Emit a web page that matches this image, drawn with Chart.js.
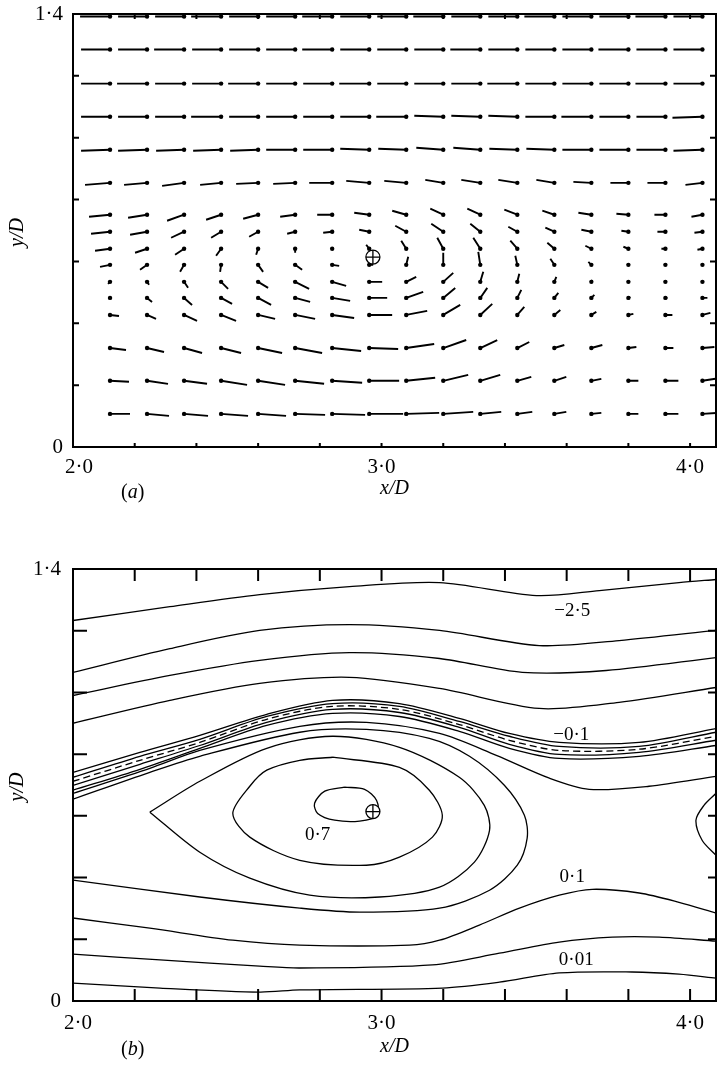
<!DOCTYPE html>
<html><head><meta charset="utf-8">
<script src="https://cdn.jsdelivr.net/npm/chart.js@4.4.0/dist/chart.umd.min.js"></script>
<style>
html,body{margin:0;padding:0;background:#fff;}
#wrap{position:relative;width:717px;height:1066px;overflow:hidden;}
canvas{position:absolute;left:0;}
#ca{top:0;}
#cb{top:520px;}
.pl{position:absolute;font-family:"Liberation Serif",serif;font-size:20px;line-height:22px;color:#000;}
</style></head><body>
<div id="wrap">
<canvas id="ca" width="717" height="505" style="width:717px;height:505px"></canvas>
<canvas id="cb" width="717" height="546" style="width:717px;height:546px"></canvas>
<div class="pl" style="left:121px;top:480px;">(<i>a</i>)</div>
<div class="pl" style="left:121px;top:1037px;">(<i>b</i>)</div>
</div>
<script>
// ---------- axes ----------
const X_MIN = 2.0, X_MAX = 4.084, Y_MIN = 0, Y_MAX = 1.4;
const X_LABELS = [[2.0, '2·0'], [3.0, '3·0'], [4.0, '4·0']];
const Y_LABELS = [[0, '0'], [1.4, '1·4']];
const X_MINOR = [2.0, 2.2, 2.4, 2.6, 2.8, 3.0, 3.2, 3.4, 3.6, 3.8, 4.0];
const Y_MINOR = [0, 0.2, 0.4, 0.6, 0.8, 1.0, 1.2, 1.4];
const X_TITLE = 'x/D', Y_TITLE = 'y/D';

// ---------- (a) velocity vectors ----------
const ROW_Y = [1.392, 1.285, 1.175, 1.068, 0.961, 0.854, 0.751, 0.696, 0.641, 0.589, 0.534, 0.482, 0.427, 0.320, 0.214, 0.107];
const COL_X = [2.12, 2.24, 2.36, 2.48, 2.60, 2.72, 2.84, 2.96, 3.08, 3.20, 3.32, 3.44, 3.56, 3.68, 3.80, 3.92, 4.04];
const U = [
 [30,29,29,30,29,29,30,29,29,30,29,29,30,29,29,30,29],
 [29,29,30,29,29,29,30,29,29,29,30,29,29,29,30,29,29],
 [29,30,29,29,30,29,29,30,29,29,29,30,29,29,29,30,29],
 [29,29,29,30,29,29,29,29,30,29,29,29,29,30,29,29,30],
 [29,29,28,28,28,29,29,29,28,27,27,28,28,29,29,29,29],
 [25,23,22,21,22,22,23,23,22,18,19,19,18,18,18,18,17],
 [21,19,17,15,15,15,15,15,14,13,13,13,12,13,12,11,11],
 [19,17,13,10,9,8,9,10,11,12,10,9,9,10,7,8,8],
 [15,12,9,5,2,0,0,3,5,6,7,7,7,6,5,4,5],
 [10,7,4,1,-5,-7,-7,-4,-2,0,2,2,4,3,1,1,1],
 [2,-2,-4,-7,-10,-14,-14,-13,-10,-10,-3,-2,-2,-1,-1,-1,-1],
 [2,-5,-8,-11,-13,-15,-18,-18,-17,-12,-7,-4,-4,-3,-2,-2,-5],
 [-9,-9,-13,-15,-17,-20,-22,-23,-21,-17,-12,-7,-6,-5,-5,-7,-8],
 [-16,-17,-18,-20,-24,-27,-29,-29,-28,-23,-17,-12,-10,-11,-8,-8,-12],
 [-19,-21,-23,-26,-27,-29,-30,-30,-29,-25,-20,-14,-12,-10,-10,-13,-13],
 [-20,-22,-24,-27,-28,-30,-33,-34,-33,-30,-21,-15,-12,-10,-10,-13,-14]
];
const V = [
 [0,0,0,0,0,0,0,0,0,0,0,0,0,0,0,0,0],
 [0,0,0,0,0,0,0,0,0,0,0,0,0,0,0,0,0],
 [0,0,0,0,0,0,0,0,0,0,0,0,0,0,0,0,0],
 [0,0,0,0,0,0,0,0,0,-1,-1,-1,0,0,0,0,1],
 [1,1,1,1,1,0,0,-1,-1,-2,-2,-1,-1,0,0,0,1],
 [2,2,3,2,1,1,0,-2,-2,-3,-3,-3,-3,-1,0,0,2],
 [2,3,6,5,4,2,0,-2,-4,-6,-6,-5,-4,-2,-1,0,2],
 [2,3,6,6,5,2,1,-2,-6,-8,-8,-5,-4,-2,-1,0,1],
 [2,4,6,7,6,4,1,-4,-8,-11,-11,-8,-6,-3,-2,0,1],
 [2,5,7,7,7,5,1,0,-8,-12,-13,-9,-6,-3,-1,0,0],
 [2,3,6,7,6,7,4,0,-5,-9,-10,-8,-5,-2,0,0,0],
 [0,4,7,6,7,4,3,0,-6,-10,-10,-8,-5,-3,-1,0,0],
 [1,4,6,6,4,4,3,0,-4,-10,-11,-8,-5,-3,-1,0,-2],
 [2,4,5,5,5,5,3,1,-4,-8,-8,-6,-3,-3,-1,0,-1],
 [1,3,3,4,4,3,2,0,-3,-6,-6,-4,-4,-2,0,0,-2],
 [0,2,2,2,2,1,1,0,-1,-2,-2,-2,-2,-1,0,0,-1]
];
const VEC_SCALE = 1 / 309;   // vector component -> x/D units
const CENTRE = [2.972, 0.614];

// ---------- (b) streamlines ----------
const PSI_A = [[2.000,1.233],[2.314,1.278],[2.605,1.317],[2.896,1.343],[3.188,1.356],[3.502,1.314],[3.706,1.330],[3.964,1.356],[4.084,1.366]];
const PSI_B = [[2.000,1.065],[2.314,1.142],[2.605,1.201],[2.896,1.220],[3.188,1.201],[3.511,1.152],[3.770,1.168],[4.084,1.201]];
const PSI_C = [[2.000,0.990],[2.314,1.055],[2.605,1.104],[2.896,1.129],[3.188,1.110],[3.456,1.065],[3.728,1.071],[4.084,1.113]];
const PSI_D = [[2.000,0.900],[2.314,0.974],[2.605,1.029],[2.896,1.049],[3.188,1.013],[3.511,0.948],[3.770,0.968],[4.084,1.016]];
const PSI_E1 = [[2.000,0.741],[2.217,0.806],[2.411,0.861],[2.628,0.929],[2.841,0.974],[3.058,0.964],[3.252,0.916],[3.414,0.867],[3.576,0.838],[3.835,0.838],[4.084,0.883]];
const PSI_E2 = [[2.000,0.725],[2.217,0.793],[2.411,0.848],[2.628,0.922],[2.841,0.964],[3.058,0.955],[3.252,0.906],[3.414,0.858],[3.576,0.825],[3.835,0.825],[4.084,0.871]];
const PSI_ZERO = [[2.000,0.712],[2.217,0.780],[2.411,0.838],[2.628,0.913],[2.841,0.955],[3.058,0.945],[3.252,0.896],[3.414,0.845],[3.576,0.812],[3.835,0.816],[4.084,0.858]];
const PSI_E4 = [[2.000,0.699],[2.217,0.767],[2.411,0.828],[2.628,0.903],[2.841,0.945],[3.058,0.935],[3.252,0.887],[3.414,0.832],[3.576,0.799],[3.835,0.806],[4.084,0.845]];
const PSI_E5 = [[2.000,0.683],[2.217,0.751],[2.411,0.819],[2.628,0.893],[2.841,0.932],[3.058,0.922],[3.252,0.874],[3.414,0.819],[3.576,0.786],[3.835,0.793],[4.084,0.828]];
const PSI_W = [[2.000,0.673],[2.249,0.754],[2.411,0.812],[2.735,0.890],[2.951,0.903],[3.188,0.867],[3.372,0.796],[3.544,0.722],[3.673,0.686],[3.867,0.696],[4.084,0.728]];
const PSI_F = [[2.000,0.654],[2.249,0.741],[2.411,0.793],[2.735,0.871],[2.951,0.880],[3.155,0.851],[3.285,0.793],[3.398,0.699],[3.463,0.602],[3.472,0.528],[3.440,0.440],[3.350,0.359],[3.188,0.301],[2.929,0.288],[2.735,0.301],[2.411,0.337],[2.000,0.392]];
const LOOP_1 = [[2.249,0.612],[2.411,0.712],[2.628,0.819],[2.841,0.858],[3.058,0.822],[3.252,0.725],[3.333,0.634],[3.350,0.553],[3.301,0.450],[3.188,0.369],[2.994,0.337],[2.767,0.343],[2.573,0.398],[2.411,0.482],[2.249,0.612]];
const LOOP_2 = [[2.841,0.790],[3.058,0.757],[3.155,0.683],[3.197,0.602],[3.165,0.531],[3.058,0.466],[2.951,0.440],[2.735,0.456],[2.573,0.531],[2.518,0.608],[2.573,0.696],[2.628,0.748],[2.735,0.780],[2.841,0.790]];
const LOOP_3 = [[2.880,0.693],[2.945,0.686],[2.984,0.650],[2.987,0.602],[2.929,0.583],[2.848,0.586],[2.793,0.608],[2.783,0.641],[2.816,0.680],[2.880,0.693]];
const LOOP_R = [[4.084,0.673],[4.045,0.634],[4.019,0.586],[4.039,0.521],[4.084,0.472]];
const PSI_G = [[2.000,0.269],[2.249,0.236],[2.518,0.197],[2.735,0.181],[3.091,0.181],[3.188,0.197],[3.317,0.246],[3.447,0.301],[3.576,0.343],[3.683,0.362],[3.835,0.350],[3.964,0.320],[4.084,0.285]];
const PSI_I = [[2.000,0.152],[2.282,0.133],[2.605,0.113],[2.735,0.107],[3.165,0.117],[3.382,0.155],[3.576,0.191],[3.748,0.207],[3.900,0.207],[4.084,0.194]];
const PSI_J = [[2.000,0.058],[2.282,0.042],[2.605,0.029],[2.735,0.036],[3.197,0.042],[3.382,0.061],[3.576,0.091],[3.812,0.094],[3.964,0.087],[4.084,0.074]];
const STREAMLINES = [PSI_A, PSI_B, PSI_C, PSI_D, PSI_E1, PSI_E2, PSI_E4, PSI_E5, PSI_W, PSI_F, LOOP_1, LOOP_2, LOOP_3, LOOP_R, PSI_G, PSI_I, PSI_J];
const DASHED = [PSI_ZERO];
const CONTOUR_LABELS = [['−2·5', 3.618, 1.265], ['−0·1', 3.615, 0.861], ['0·7', 2.793, 0.537], ['0·1', 3.618, 0.401], ['0·01', 3.631, 0.133]];

// ---------- drawing ----------
const SERIF = '"Liberation Serif", "DejaVu Serif", serif';
const TICK_FONT = '21px ' + SERIF;
const TITLE_FONT = 'italic 20px ' + SERIF;

function hiddenScales() {
  return {
    x: {type: 'linear', min: X_MIN, max: X_MAX, display: false},
    y: {type: 'linear', min: Y_MIN, max: Y_MAX, display: false}
  };
}

function framePlugin(tickLen, txt) {
  return {
    id: 'frame',
    afterDraw(chart) {
      const {ctx, chartArea: a, scales: {x, y}} = chart;
      ctx.save();
      ctx.strokeStyle = '#000';
      ctx.lineWidth = 2;
      ctx.strokeRect(a.left, a.top, a.right - a.left, a.bottom - a.top);
      ctx.beginPath();
      for (const v of X_MINOR) {
        const px = x.getPixelForValue(v);
        ctx.moveTo(px, a.bottom); ctx.lineTo(px, a.bottom - tickLen.b);
        ctx.moveTo(px, a.top); ctx.lineTo(px, a.top + tickLen.t);
      }
      for (const v of Y_MINOR) {
        const py = y.getPixelForValue(v);
        ctx.moveTo(a.left, py); ctx.lineTo(a.left + tickLen.l, py);
        ctx.moveTo(a.right, py); ctx.lineTo(a.right - tickLen.r, py);
      }
      ctx.stroke();
      // axis text
      ctx.fillStyle = '#000';
      ctx.font = TICK_FONT;
      ctx.textAlign = 'center';
      ctx.textBaseline = 'middle';
      for (const [v, t] of X_LABELS) ctx.fillText(t, x.getPixelForValue(v) + (v === X_MIN ? txt.firstShift : 0), a.bottom + txt.xLabelGap);
      ctx.textAlign = 'right';
      for (const [v, t] of Y_LABELS) ctx.fillText(t, a.left - txt.yLabelGap, y.getPixelForValue(v));
      ctx.font = TITLE_FONT;
      ctx.textAlign = 'center';
      ctx.fillText(X_TITLE, (a.left + a.right) / 2, a.bottom + txt.xTitleGap);
      ctx.translate(txt.yTitleX, (a.top + a.bottom) / 2 + 2);
      ctx.rotate(-Math.PI / 2);
      ctx.fillText(Y_TITLE, 0, 0);
      ctx.restore();
    }
  };
}

const labelPlugin = {
  id: 'clabels',
  afterDatasetsDraw(chart) {
    const {ctx, scales: {x, y}} = chart;
    ctx.save();
    ctx.fillStyle = '#000';
    ctx.font = '19px ' + SERIF;
    ctx.textAlign = 'center';
    ctx.textBaseline = 'middle';
    for (const [t, vx, vy] of CONTOUR_LABELS) ctx.fillText(t, x.getPixelForValue(vx), y.getPixelForValue(vy));
    ctx.restore();
  }
};

function centreSets() {
  return [
    {data: [{x: CENTRE[0], y: CENTRE[1]}], order: -2, pointStyle: 'cross', pointRadius: 7, borderColor: '#000', borderWidth: 1.3},
    {data: [{x: CENTRE[0], y: CENTRE[1]}], order: -1, pointStyle: 'circle', pointRadius: 7, borderColor: '#000', borderWidth: 1.3, backgroundColor: '#fff'}
  ];
}

// quiver
const segData = [], headData = [];
ROW_Y.forEach((yv, i) => COL_X.forEach((xv, j) => {
  const du = U[i][j] * VEC_SCALE, dv = V[i][j] * VEC_SCALE;
  segData.push({x: xv - du, y: yv - dv}, {x: xv, y: yv}, {x: xv, y: null});
  headData.push({x: xv, y: yv});
}));

const common = {
  responsive: false, animation: false, devicePixelRatio: 1,
  plugins: {legend: {display: false}, tooltip: {enabled: false}},
  events: []
};

new Chart(document.getElementById('ca'), {
  type: 'scatter',
  data: {datasets: [
    {data: segData, showLine: true, spanGaps: false, borderColor: '#000', borderWidth: 1.9, pointRadius: 0, tension: 0},
    {data: headData, pointRadius: 2.2, backgroundColor: '#000', borderWidth: 0},
    ...centreSets()
  ]},
  options: Object.assign({}, common, {
    layout: {autoPadding: false, padding: {top: 14, right: 1, left: 73, bottom: 58}},
    scales: hiddenScales()
  }),
  plugins: [framePlugin({b: 4, t: 5, l: 6, r: 6}, {firstShift: 6, xLabelGap: 20, yLabelGap: 10, xTitleGap: 42, yTitleX: 18})]
});

const lineSets = STREAMLINES.map(p => ({data: p.map(q => ({x: q[0], y: q[1]})), showLine: true, borderColor: '#000', borderWidth: 1.3, pointRadius: 0, tension: 0.3}));
const dashSets = DASHED.map(p => ({data: p.map(q => ({x: q[0], y: q[1]})), showLine: true, borderColor: '#000', borderWidth: 1.3, borderDash: [7, 4], pointRadius: 0, tension: 0.3}));

new Chart(document.getElementById('cb'), {
  type: 'scatter',
  data: {datasets: [...lineSets, ...dashSets, ...centreSets()]},
  options: Object.assign({}, common, {
    layout: {autoPadding: false, padding: {top: 49, right: 1, left: 73, bottom: 65}},
    scales: hiddenScales()
  }),
  plugins: [framePlugin({b: 12, t: 12, l: 14, r: 8}, {firstShift: 5, xLabelGap: 22, yLabelGap: 12, xTitleGap: 46, yTitleX: 18}), labelPlugin]
});
</script>
</body></html>
